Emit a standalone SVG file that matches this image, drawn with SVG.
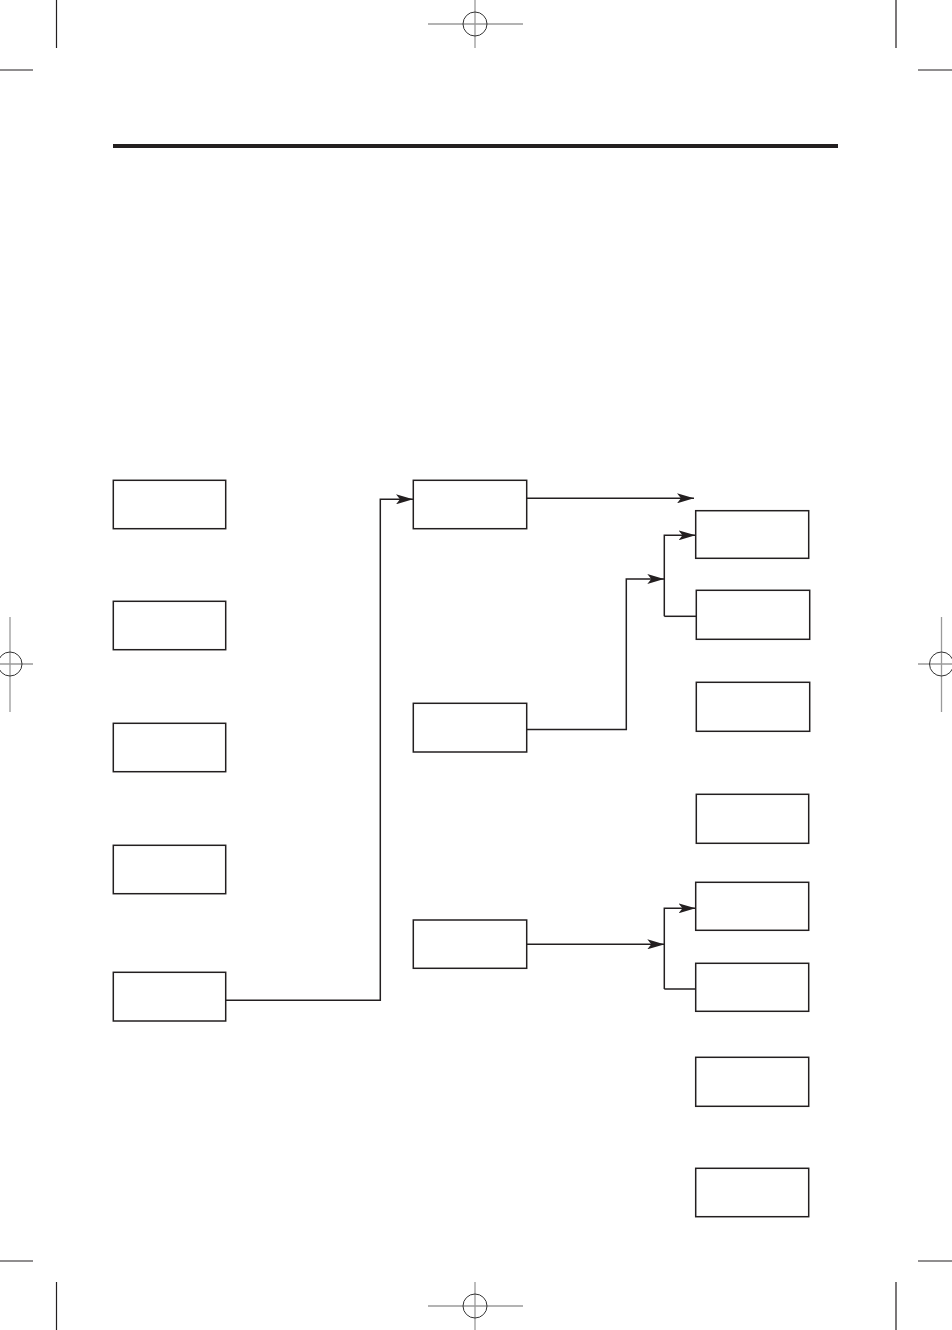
<svg xmlns="http://www.w3.org/2000/svg" width="952" height="1330" viewBox="0 0 952 1330">
<style>
.box{fill:#fff;stroke:#231f20;stroke-width:1.5}
.conn{fill:none;stroke:#231f20;stroke-width:1.5}
.crop{stroke:#231f20;stroke-width:1.2;fill:none}
.regl{stroke:#9a9a9a;stroke-width:1.3;fill:none}
.regc{stroke:#333;stroke-width:1;fill:none}
</style>
<defs>
<marker id="ah" markerUnits="userSpaceOnUse" viewBox="0 0 17 10" markerWidth="17" markerHeight="10" refX="17" refY="5" orient="auto">
<path d="M0,0 L17,5 L0,10 L4,5 Z" fill="#231f20"/>
</marker>
</defs>
<rect width="952" height="1330" fill="#fff"/>
<g id="printmarks">
<path class="crop" d="M56.5,0V48M896,0V48M0,70H33M918,70H952M0,1261H33M918,1261H952M56.5,1282V1330M896,1282V1330"/>
<path class="regl" d="M428,24H523M475,0V48M428,1306H523M475,1282V1330M0,664H33M10,617V712M918,664H952M941.5,617V712"/>
<circle class="regc" cx="475" cy="24" r="12"/>
<circle class="regc" cx="475" cy="1306" r="12"/>
<circle class="regc" cx="10" cy="664" r="12"/>
<circle class="regc" cx="941.5" cy="664" r="12"/>
</g>
<rect id="headerbar" x="113" y="144" width="725" height="4" fill="#231f20"/>
<g id="connectors">
<path class="conn" d="M225.5,1000.3H380.3V499.3H413" marker-end="url(#ah)"/>
<path class="conn" d="M526.5,498.3H694" marker-end="url(#ah)"/>
<path class="conn" d="M526.5,729.5H626.3V579H664.3" marker-end="url(#ah)"/>
<path class="conn" d="M664.3,616.3V535.3H695.5" marker-end="url(#ah)"/>
<path class="conn" d="M664.3,616.3H696"/>
<path class="conn" d="M526.5,944.3H664.3" marker-end="url(#ah)"/>
<path class="conn" d="M664.3,989V908.3H695.5" marker-end="url(#ah)"/>
<path class="conn" d="M664.3,989H695.5"/>
</g>
<g id="L1"><rect class="box" x="113.3" y="480.3" width="112.4" height="48.4"/></g>
<g id="L2"><rect class="box" x="113.3" y="601.3" width="112.4" height="48.4"/></g>
<g id="L3"><rect class="box" x="113.3" y="723.3" width="112.4" height="48.4"/></g>
<g id="L4"><rect class="box" x="113.3" y="845.3" width="112.4" height="48.4"/></g>
<g id="L5"><rect class="box" x="113.3" y="972.3" width="112.4" height="48.7"/></g>
<g id="M1"><rect class="box" x="413.3" y="480.3" width="113.4" height="48.4"/></g>
<g id="M2"><rect class="box" x="413.3" y="703.3" width="113.4" height="48.7"/></g>
<g id="M3"><rect class="box" x="413.3" y="920" width="113.4" height="48.3"/></g>
<g id="R1"><rect class="box" x="695.7" y="510.7" width="113" height="47.6"/></g>
<g id="R2"><rect class="box" x="696.3" y="590.3" width="113.4" height="49"/></g>
<g id="R3"><rect class="box" x="696.3" y="682.3" width="113.4" height="49"/></g>
<g id="R4"><rect class="box" x="696.3" y="794.3" width="112.4" height="49"/></g>
<g id="R5"><rect class="box" x="695.7" y="882.3" width="113" height="48"/></g>
<g id="R6"><rect class="box" x="695.7" y="963.3" width="113" height="48"/></g>
<g id="R7"><rect class="box" x="695.7" y="1057.3" width="113" height="49"/></g>
<g id="R8"><rect class="box" x="695.7" y="1168.3" width="113" height="48.4"/></g>
</svg>
